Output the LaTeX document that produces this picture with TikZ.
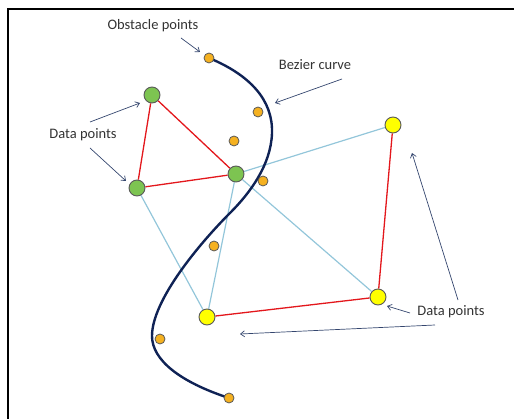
\documentclass[tikz,border=0pt]{standalone}
\usepackage{fontspec}
\setmainfont{Carlito}
\usepackage{tikz}
\usetikzlibrary{arrows.meta,backgrounds}

\definecolor{greenPt}{HTML}{7DC451}
\definecolor{yellowPt}{HTML}{FFFF00}
\definecolor{orangePt}{HTML}{F5B120}
\definecolor{edgeRed}{HTML}{E3171C}
\definecolor{edgeBlue}{HTML}{93C6DA}
\definecolor{curveBlue}{HTML}{0F2255}
\definecolor{arrowBlue}{HTML}{34466E}

\begin{document}
\begin{tikzpicture}[x=1pt,y=-1pt]
            \tikzstyle{dataGreen}=[circle, fill=greenPt, draw=gray!70!black, line width=0.9pt, minimum size=16pt, inner sep=0pt]
            \tikzstyle{dataYellow}=[circle, fill=yellowPt, draw=gray!70!black, line width=0.9pt, minimum size=16pt, inner sep=0pt]
            \tikzstyle{obstacle}=[circle, fill=orangePt, draw=gray!70!black, line width=0.8pt, minimum size=10pt, inner sep=0pt]
            \tikzstyle{redEdge}=[edgeRed, line width=1.3pt]
            \tikzstyle{blueEdge}=[edgeBlue, line width=1.2pt]
            \tikzstyle{textLabel}=[text=black!80, font=\fontsize{14.5}{17}\selectfont, inner sep=1pt]
            \tikzstyle{pointer}=[arrowBlue, line width=0.7pt, -{Straight Barb[length=4pt,width=6pt]}]

            \useasboundingbox (0,0) rectangle (514,419);
            \draw[line width=2pt] (7.5,419) -- (7.5,9) -- (514,9);

            %%%%%%%%%%%%%%%%%%%%%%%%%%%%%%%%%%%%%%%%
            % obstacle points
            \node (o1) at (209,58)  [obstacle] {};
            \node (o2) at (258,112) [obstacle] {};
            \node (o3) at (234,141) [obstacle] {};
            \node (o4) at (263,181) [obstacle] {};
            \node (o5) at (214,246) [obstacle] {};
            \node (o6) at (160,339) [obstacle] {};
            \node (o7) at (229,398) [obstacle] {};

            % data points
            \node (g1) at (152,95)  [dataGreen] {};
            \node (g2) at (137,188) [dataGreen] {};
            \node (g3) at (236,174) [dataGreen] {};
            \node (y1) at (393,125) [dataYellow] {};
            \node (y2) at (378,297) [dataYellow] {};
            \node (y3) at (207,317) [dataYellow] {};

            %%%%%%%%%%%%%%%%%%%%%%%%%%%%%%%%%%%%%%%%
            \begin{scope}[on background layer]
                \draw[blueEdge] (g3) -- (y1);
                \draw[blueEdge] (g3) -- (y2);
                \draw[blueEdge] (g3) -- (y3);
                \draw[blueEdge] (g2) -- (y3);

                \draw[redEdge] (g1) -- (g2);
                \draw[redEdge] (g1) -- (g3);
                \draw[redEdge] (g2) -- (g3);
                \draw[redEdge] (y1) -- (y2);
                \draw[redEdge] (y2) -- (y3);

                \draw[curveBlue, line width=2.4pt, line cap=round]
                    (o1.center) .. controls (250,75) and (273,100) .. (272,133)
                    .. controls (271,165) and (250,193) .. (230,213)
                    .. controls (200,243) and (152,300) .. (152,336)
                    .. controls (152,360) and (180,382) .. (o7.center);
            \end{scope}

            %%%%%%%%%%%%%%%%%%%%%%%%%%%%%%%%%%%%%%%%
            \node (lblObstacle) at (153,26)  [textLabel] {Obstacle points};
            \node (lblBezier)   at (315,65)  [textLabel] {Bezier curve};
            \node (lblDataL)    at (83,135)  [textLabel] {Data points};
            \node (lblDataR)    at (451,312) [textLabel] {Data points};

            \coordinate (obsTail) at (181,38);   \coordinate (obsTip) at (200,52);
            \coordinate (bezTail) at (342,79);   \coordinate (bezTip) at (275,103);
            \coordinate (dlTailA) at (90,122);   \coordinate (dlTipA) at (140,103);
            \coordinate (dlTailB) at (90,148);   \coordinate (dlTipB) at (126,181);
            \coordinate (drTailA) at (410,313);  \coordinate (drTipA) at (387,306);
            \coordinate (drTailB) at (435,325);  \coordinate (drTipB) at (240,334);
            \coordinate (drTailC) at (458,300);  \coordinate (drTipC) at (412,153);

            \draw[pointer] (obsTail) -- (obsTip);
            \draw[pointer] (bezTail) -- (bezTip);
            \draw[pointer] (dlTailA) -- (dlTipA);
            \draw[pointer] (dlTailB) -- (dlTipB);
            \draw[pointer] (drTailA) -- (drTipA);
            \draw[pointer] (drTailB) -- (drTipB);
            \draw[pointer] (drTailC) -- (drTipC);
        \end{tikzpicture}
\end{document}
